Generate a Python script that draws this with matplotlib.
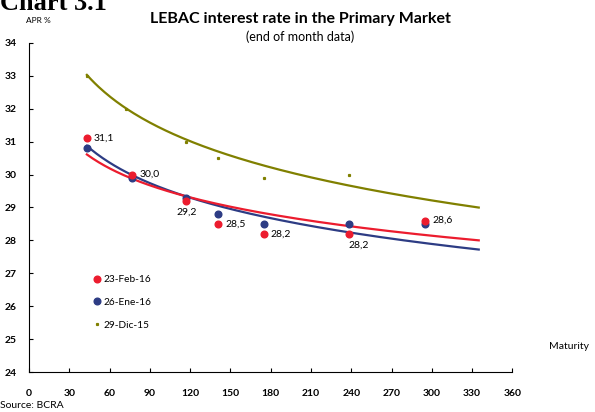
import numpy as np
import matplotlib.pyplot as plt

plt.rcParams['font.family'] = ['Lato', 'DejaVu Sans']

# datos
plazos = [43, 77, 117, 141, 175, 238, 295]
tasa_feb = [31.1, 30.0, 29.2, 28.5, 28.2, 28.2, 28.6]
tasa_ene = [30.8, 29.9, 29.3, 28.8, 28.5, 28.5, 28.5]
plazos_dic = [43, 72, 117, 141, 175, 238]
tasa_dic = [33.0, 32.0, 31.0, 30.5, 29.9, 30.0]

# etiquetas de la serie de febrero
etiquetas_feb = ['31,1', '30,0', '29,2', '28,5', '28,2', '28,2', '28,6']
etiqueta_abajo = [False, False, True, False, False, True, False]

# tendencias logaritmicas y = a + b*ln(x)
tend_feb = (35.39, -1.271)
tend_ene = (36.64, -1.534)
tend_dic = (40.41, -1.963)
tend_desde, tend_hasta = 43, 335

ROJO = '#EC1C2E'
AZUL = '#2D3C84'
OLIVA = '#808000'

fig = plt.figure(figsize=(5.95, 4.12), dpi=100)
ax = fig.add_axes([0.049, 0.097, 0.812, 0.799])

xx = np.linspace(tend_desde, tend_hasta, 200)
for (a, b), c in [(tend_dic, OLIVA), (tend_ene, AZUL), (tend_feb, ROJO)]:
    ax.plot(xx, a + b * np.log(xx), color=c, lw=1.6, zorder=2)

ax.plot(plazos_dic, tasa_dic, 's', color=OLIVA, ms=1.3, zorder=3, label='29-Dic-15')
ax.plot(plazos, tasa_ene, 'o', color=AZUL, ms=4.8, zorder=4, label='26-Ene-16')
ax.plot(plazos, tasa_feb, 'o', color=ROJO, ms=4.8, zorder=5, label='23-Feb-16')

for x, y, t, abajo in zip(plazos, tasa_feb, etiquetas_feb, etiqueta_abajo):
    if abajo:
        ax.annotate(t, (x, y), xytext=(0, -5), textcoords='offset points',
                    ha='left' if x > 200 else 'center', va='top', fontsize=7.5)
    else:
        ax.annotate(t, (x, y), xytext=(5, 0), textcoords='offset points',
                    ha='left', va='center', fontsize=7.5)

h, l = ax.get_legend_handles_labels()
ax.legend(h[::-1], l[::-1], frameon=False, loc='upper left',
          bbox_to_anchor=(0.116, 0.322), fontsize=7.3, handlelength=0.6,
          handletextpad=0.3, labelspacing=1.35, markerscale=1.0)

ax.set_xlim(0, 360)
ax.set_ylim(24, 34)
ax.set_xticks(range(0, 361, 30))
ax.set_yticks(range(24, 35))
ax.spines['top'].set_visible(False)
ax.spines['right'].set_visible(False)
ax.tick_params(direction='in', length=3, width=0.8, labelsize=7.5)
ax.tick_params(axis='x', pad=12)
ax.tick_params(axis='y', pad=9)
for lab in ax.get_xticklabels() + ax.get_yticklabels():
    lab.set_fontweight('bold')

fig.text(0.0, 0.975, 'Chart 3.1', family='Liberation Serif', fontweight='bold',
         fontsize=19, ha='left', va='baseline')
fig.text(0.505, 0.955, 'LEBAC interest rate in the Primary Market',
         fontweight='bold', fontsize=11.5, ha='center', va='center')
fig.text(0.505, 0.912, '(end of month data)', fontsize=9, ha='center', va='center')
fig.text(0.065, 0.95, 'APR %', fontsize=6, ha='center', va='center')
fig.text(0.99, 0.16, 'Maturity', fontsize=7.5, ha='right', va='center')
fig.text(0.0, 0.015, 'Source: BCRA', fontsize=7.5, ha='left', va='center')

fig.savefig('out.png', dpi=100)
